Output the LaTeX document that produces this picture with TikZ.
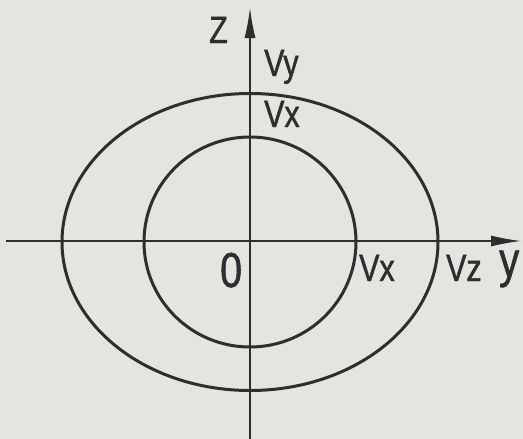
\documentclass[tikz,border=0pt]{standalone}
\usepackage{fontspec}
\setmainfont{Liberation Sans}[FakeStretch=0.8, FakeBold=1.2]
\usetikzlibrary{arrows.meta}
\definecolor{paper}{HTML}{E4E4E0}
\definecolor{ink}{HTML}{2E2E2E}
\tikzset{
  axis/.style={draw=ink, line width=1.3pt, -{Latex[length=30pt,width=11pt]}},
  curve/.style={draw=ink, line width=3pt},
  lbl/.style={text=ink, font=\fontsize{38}{40}\selectfont, inner sep=0pt, anchor=base west},
}
\begin{document}
\begin{tikzpicture}[x=1pt,y=-1pt]
\fill[paper] (0,0) rectangle (523,439);
\useasboundingbox (0,0) rectangle (523,439);
\coordinate (zb) at (250,439);
\coordinate (zt) at (250,8);
\coordinate (yl) at (6,241);
\coordinate (yr) at (521,241);
\coordinate (o) at (250,242);
\draw[axis] (zb) -- (zt);
\draw[axis] (yl) -- (yr);
\draw[curve] (o) ellipse [x radius=188, y radius=148.5];
\draw[curve] (o) ellipse [x radius=106, y radius=105];
\node[lbl] (lz) at (209,43) {Z};
\node[lbl] (lvy) at (264,76) {Vy};
\node[lbl] (lvx1) at (264,127) {Vx};
\node[lbl, font=\fontsize{49}{50}\selectfont] (l0) at (220,287) {0};
\node[lbl] (lvx2) at (359,281) {Vx};
\node[lbl] (lvz) at (446,281) {Vz};
\node[lbl, font=\fontsize{50}{52}\selectfont] (ly) at (499,277) {y};
\end{tikzpicture}
\end{document}
